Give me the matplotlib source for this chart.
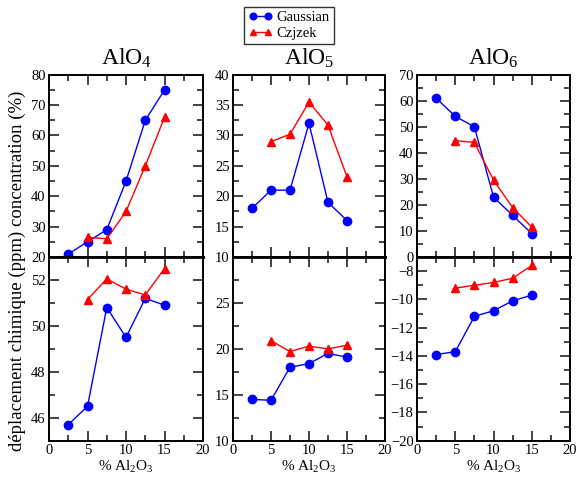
import matplotlib
matplotlib.use('Agg')
import matplotlib.pyplot as plt
from matplotlib.ticker import MultipleLocator

plt.rcParams['font.family'] = ['Liberation Serif', 'DejaVu Serif']
plt.rcParams['mathtext.fontset'] = 'custom'
plt.rcParams['mathtext.rm'] = 'Liberation Serif'
plt.rcParams['mathtext.it'] = 'Liberation Serif:italic'

x_gauss = [2.5, 5, 7.5, 10, 12.5, 15]
x_czj = [5, 7.5, 10, 12.5, 15]

titles = ['AlO$_4$', 'AlO$_5$', 'AlO$_6$']

# concentrations (%)
conc_gauss = [[21, 25, 29, 45, 65, 75],
              [18, 21, 21, 32, 19, 16],
              [61, 54, 50, 23, 16, 9]]
conc_czj = [[26.5, 26, 35, 50, 66],
            [29, 30.2, 35.5, 31.7, 23.2],
            [44.7, 44, 29.5, 19, 11.5]]

# chemical shifts (ppm)
shift_gauss = [[45.7, 46.5, 50.8, 49.5, 51.2, 50.9],
               [14.5, 14.4, 18.0, 18.4, 19.5, 19.1],
               [-13.9, -13.7, -11.2, -10.8, -10.1, -9.7]]
shift_czj = [[51.15, 52.05, 51.6, 51.35, 52.5],
             [20.9, 19.7, 20.3, 20.0, 20.4],
             [-9.2, -9.0, -8.8, -8.5, -7.6]]

top_ylim = [(20, 80), (10, 40), (0, 70)]
top_major = [10, 5, 10]
bot_ylim = [(45, 53), (10, 30), (-20, -7)]
bot_major = [2, 5, 2]

fig = plt.figure(figsize=(5.76, 4.78), dpi=100)
lefts = [0.0851, 0.4045, 0.724]
widths = [0.2674, 0.2639, 0.2656]


def style(ax, major):
    ax.set_xlim(0, 20)
    ax.xaxis.set_major_locator(MultipleLocator(5))
    ax.xaxis.set_minor_locator(MultipleLocator(2.5))
    ax.yaxis.set_major_locator(MultipleLocator(major))
    ax.yaxis.set_minor_locator(MultipleLocator(major / 2))
    ax.tick_params(which='both', direction='in', top=True, right=True,
                   labelsize=10.5, colors='#222222', labelcolor='black', pad=2.5)
    ax.tick_params(which='major', length=7, width=1.2)
    ax.tick_params(which='minor', length=4, width=1.2)
    for s in ax.spines.values():
        s.set_linewidth(1.4)


for i in range(3):
    ax = fig.add_axes([lefts[i], 0.4623, widths[i], 0.3814])
    ax.plot(x_gauss, conc_gauss[i], 'o-', color='blue', lw=1, ms=6)
    ax.plot(x_czj, conc_czj[i], '^-', color='red', lw=1, ms=6)
    ax.set_ylim(*top_ylim[i])
    style(ax, top_major[i])
    ax.tick_params(labelbottom=False)
    ax.spines['bottom'].set_linewidth(2)
    ax.set_title(titles[i], fontsize=17, pad=7)

    bx = fig.add_axes([lefts[i], 0.078, widths[i], 0.3843])
    bx.plot(x_gauss, shift_gauss[i], 'o-', color='blue', lw=1, ms=6)
    bx.plot(x_czj, shift_czj[i], '^-', color='red', lw=1, ms=6)
    bx.set_ylim(*bot_ylim[i])
    style(bx, bot_major[i])
    bx.spines['top'].set_linewidth(2)
    ticks = [t for t in bx.get_yticks() if bot_ylim[i][0] <= t < bot_ylim[i][1]]
    bx.set_yticks(ticks)
    bx.set_xlabel('% Al$_2$O$_3$', fontsize=11, labelpad=1)
    if i == 0:
        handles = bx.get_lines()

fig.legend(handles, ['Gaussian', 'Czjzek'], loc='upper center',
           bbox_to_anchor=(0.502, 0.992), fontsize=10.5, frameon=True,
           fancybox=False, edgecolor='black', handlelength=1.6,
           numpoints=2, markerscale=0.8,
           borderpad=0.3, labelspacing=0.15, handletextpad=0.3,
           borderaxespad=0.2)

fig.text(0.03, 0.433, 'déplacement chimique (ppm) concentration (%)',
         rotation=90, ha='center', va='center', fontsize=13.5)

fig.savefig('out.png', dpi=100)
